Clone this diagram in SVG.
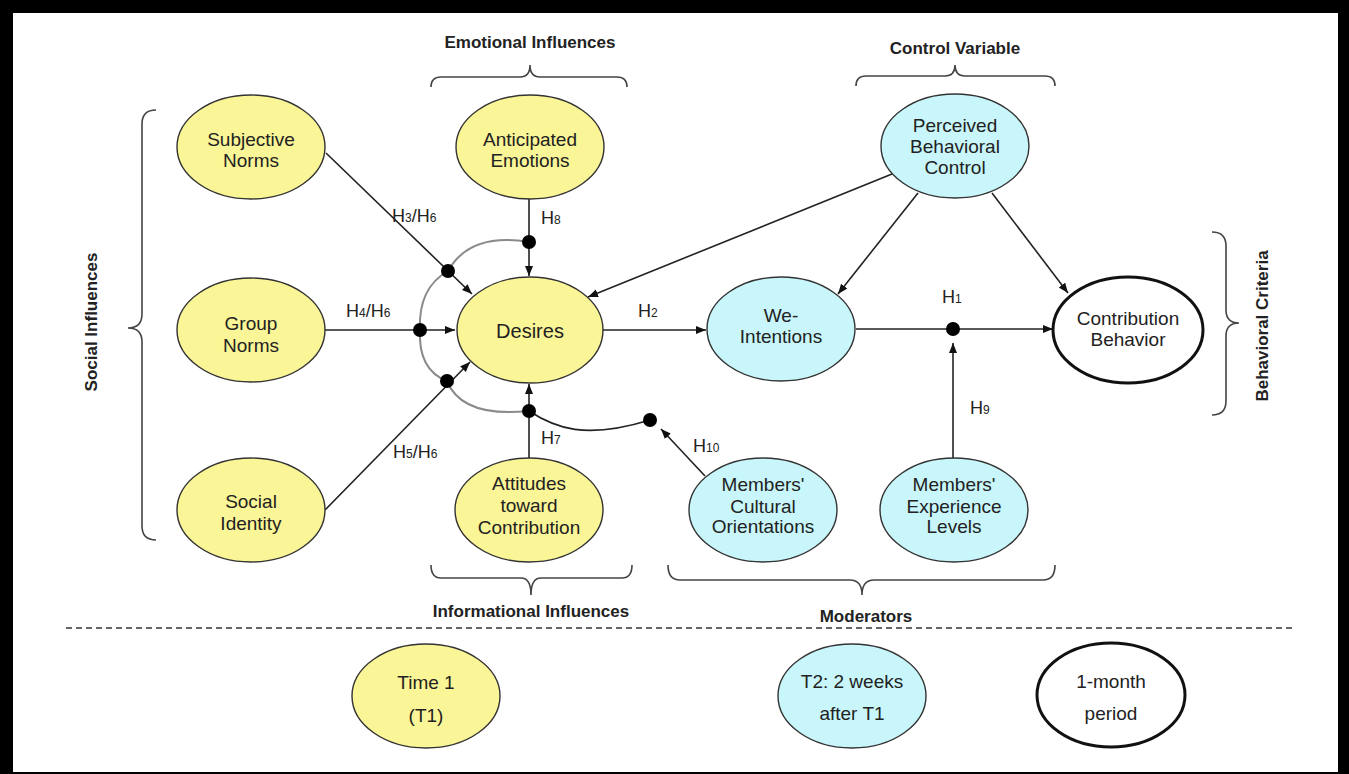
<svg xmlns="http://www.w3.org/2000/svg" width="1349" height="774" viewBox="0 0 1349 774">
<style>
.ny{fill:#FAF596;stroke:#333;stroke-width:1.4}
.nc{fill:#C8F6FA;stroke:#333;stroke-width:1.4}
.nw{fill:#fff;stroke:#111;stroke-width:3}
.t{font-family:"Liberation Sans",Arial,sans-serif;font-size:19px;fill:#222;text-anchor:middle}
.b{font-family:"Liberation Sans",Arial,sans-serif;font-size:17px;font-weight:bold;fill:#222;text-anchor:middle}
.h{font-family:"Liberation Sans",Arial,sans-serif;font-size:18px;fill:#222}
.s{font-size:12px}
.br{fill:none;stroke:#444;stroke-width:1.6}
.c{fill:none;stroke:#222;stroke-width:1.6}
.g{fill:none;stroke:#8a8a8a;stroke-width:2}
.d{fill:#000}
</style>
<defs>
<marker id="ar" markerUnits="userSpaceOnUse" markerWidth="11" markerHeight="9" refX="10" refY="4" orient="auto">
<path d="M0,0 L10,4 L0,8 z" fill="#111"/>
</marker>
</defs>
<rect x="0" y="0" width="1349" height="774" fill="#000"/>
<rect x="13" y="13" width="1325" height="759" fill="#fff"/>

<g id="groups">
<text class="b" x="530" y="48">Emotional Influences</text>
<path class="br" d="M431,87 Q431,77 441,77 L520,77 Q530,77 530,65 Q530,77 540,77 L617,77 Q627,77 627,87"/>
<text class="b" x="955" y="54">Control Variable</text>
<path class="br" d="M856,86 Q856,76 866,76 L945,76 Q955,76 955,65 Q955,76 965,76 L1045,76 Q1055,76 1055,86"/>
<text class="b" x="531" y="617">Informational Influences</text>
<path class="br" d="M431,565 Q431,578 441,578 L521,578 Q531,578 531,595 Q531,578 541,578 L622,578 Q632,578 632,565"/>
<text class="b" x="866" y="622">Moderators</text>
<path class="br" d="M668,565 Q668,580 680,580 L850,580 Q862,580 862,595 Q862,580 874,580 L1043,580 Q1055,580 1055,565"/>
<text class="b" transform="translate(97,322) rotate(-90)" x="0" y="0">Social Influences</text>
<path class="br" d="M156,110 Q142,110 142,124 L142,314 Q142,328 128,328 Q142,328 142,342 L142,526 Q142,540 156,540"/>
<text class="b" transform="translate(1268,326) rotate(-90)" x="0" y="0">Behavioral Criteria</text>
<path class="br" d="M1212,232 Q1226,232 1226,246 L1226,310 Q1226,323 1239,323 Q1226,323 1226,336 L1226,401 Q1226,415 1212,415"/>
</g>

<g id="connectors">
<path class="g" d="M529,242 Q470,232 448,271"/>
<path class="g" d="M448,271 Q418,288 420,330"/>
<path class="g" d="M420,330 Q418,370 447,381"/>
<path class="g" d="M447,381 Q462,418 529,411"/>
<line class="c" x1="326" y1="153" x2="472" y2="294" marker-end="url(#ar)"/>
<line class="c" x1="325" y1="330" x2="455" y2="330" marker-end="url(#ar)"/>
<line class="c" x1="325" y1="510" x2="470" y2="362" marker-end="url(#ar)"/>
<line class="c" x1="529" y1="198" x2="529" y2="276" marker-end="url(#ar)"/>
<line class="c" x1="529" y1="458" x2="529" y2="384" marker-end="url(#ar)"/>
<line class="c" x1="892" y1="174" x2="588" y2="297" marker-end="url(#ar)"/>
<line class="c" x1="918" y1="193" x2="838" y2="294" marker-end="url(#ar)"/>
<line class="c" x1="992" y1="193" x2="1068" y2="293" marker-end="url(#ar)"/>
<line class="c" x1="603" y1="330" x2="706" y2="330" marker-end="url(#ar)"/>
<line class="c" x1="856" y1="329" x2="1053" y2="329" marker-end="url(#ar)"/>
<line class="c" x1="953" y1="458" x2="953" y2="343" marker-end="url(#ar)"/>
<line class="c" x1="705" y1="476" x2="661" y2="429" marker-end="url(#ar)"/>
<path class="c" stroke="#333" d="M529,411 C555,428 585,440 650,420"/>
<circle class="d" cx="448" cy="271" r="7"/>
<circle class="d" cx="420" cy="330" r="7"/>
<circle class="d" cx="447" cy="381" r="7"/>
<circle class="d" cx="529" cy="242" r="7"/>
<circle class="d" cx="529" cy="411" r="7"/>
<circle class="d" cx="650" cy="420" r="7"/>
<circle class="d" cx="953" cy="329" r="7"/>
<text class="h" x="392" y="222">H<tspan class="s">3</tspan>/H<tspan class="s">6</tspan></text>
<text class="h" x="541" y="224">H<tspan class="s">8</tspan></text>
<text class="h" x="346" y="317">H<tspan class="s">4</tspan>/H<tspan class="s">6</tspan></text>
<text class="h" x="638" y="317">H<tspan class="s">2</tspan></text>
<text class="h" x="942" y="303">H<tspan class="s">1</tspan></text>
<text class="h" x="970" y="414">H<tspan class="s">9</tspan></text>
<text class="h" x="541" y="444">H<tspan class="s">7</tspan></text>
<text class="h" x="393" y="458">H<tspan class="s">5</tspan>/H<tspan class="s">6</tspan></text>
<text class="h" x="693" y="452">H<tspan class="s">10</tspan></text>
</g>

<g id="subjective-norms"><ellipse class="ny" cx="251" cy="147" rx="74" ry="52"/><text class="t" x="251" y="146">Subjective</text><text class="t" x="251" y="167">Norms</text></g>
<g id="anticipated-emotions"><ellipse class="ny" cx="530" cy="147" rx="74" ry="52"/><text class="t" x="530" y="146">Anticipated</text><text class="t" x="530" y="167">Emotions</text></g>
<g id="perceived-behavioral-control"><ellipse class="nc" cx="955" cy="146" rx="74" ry="52"/><text class="t" x="955" y="132">Perceived</text><text class="t" x="955" y="153">Behavioral</text><text class="t" x="955" y="174">Control</text></g>
<g id="group-norms"><ellipse class="ny" cx="251" cy="330" rx="74" ry="52"/><text class="t" x="251" y="330">Group</text><text class="t" x="251" y="352">Norms</text></g>
<g id="desires"><ellipse class="ny" cx="530" cy="330" rx="73" ry="53"/><text class="t" x="530" y="338" style="font-size:20px">Desires</text></g>
<g id="we-intentions"><ellipse class="nc" cx="781" cy="329" rx="74" ry="52"/><text class="t" x="781" y="322">We-</text><text class="t" x="781" y="343">Intentions</text></g>
<g id="contribution-behavior"><ellipse class="nw" cx="1128" cy="330" rx="75" ry="53"/><text class="t" x="1128" y="325">Contribution</text><text class="t" x="1128" y="346">Behavior</text></g>
<g id="social-identity"><ellipse class="ny" cx="251" cy="510" rx="74" ry="52"/><text class="t" x="251" y="508">Social</text><text class="t" x="251" y="530">Identity</text></g>
<g id="attitudes"><ellipse class="ny" cx="529" cy="510" rx="74" ry="52"/><text class="t" x="529" y="490">Attitudes</text><text class="t" x="529" y="512">toward</text><text class="t" x="529" y="534">Contribution</text></g>
<g id="cultural-orientations"><ellipse class="nc" cx="763" cy="510" rx="74" ry="52"/><text class="t" x="763" y="491">Members'</text><text class="t" x="763" y="513">Cultural</text><text class="t" x="763" y="533">Orientations</text></g>
<g id="experience-levels"><ellipse class="nc" cx="954" cy="510" rx="74" ry="52"/><text class="t" x="954" y="491">Members'</text><text class="t" x="954" y="513">Experience</text><text class="t" x="954" y="533">Levels</text></g>

<line x1="66" y1="628" x2="1293" y2="628" stroke="#333" stroke-width="1.5" stroke-dasharray="6 4"/>

<g id="time1"><ellipse class="ny" cx="426" cy="696" rx="74" ry="52"/><text class="t" x="426" y="689">Time 1</text><text class="t" x="426" y="722">(T1)</text></g>
<g id="time2"><ellipse class="nc" cx="852" cy="696" rx="74" ry="52"/><text class="t" x="852" y="688">T2: 2 weeks</text><text class="t" x="852" y="720">after T1</text></g>
<g id="one-month"><ellipse class="nw" cx="1111" cy="695" rx="74" ry="52"/><text class="t" x="1111" y="688">1-month</text><text class="t" x="1111" y="720">period</text></g>
</svg>
